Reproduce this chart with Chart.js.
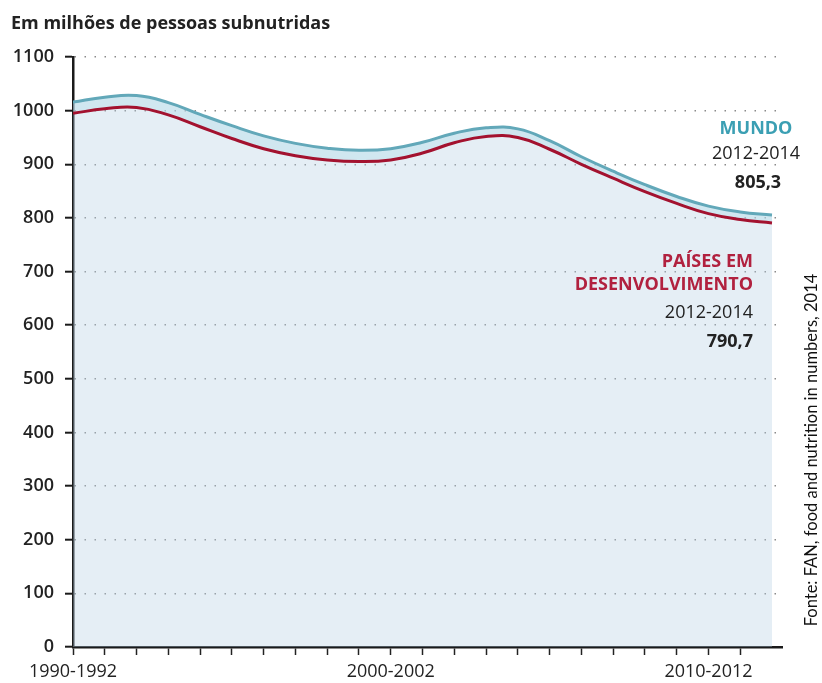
<!DOCTYPE html>
<html>
<head>
<meta charset="utf-8">
<script src="https://cdn.jsdelivr.net/npm/chart.js@4/dist/chart.umd.min.js"></script>
<style>
html,body{margin:0;padding:0;background:#fff;}
#wrap{position:relative;width:822px;height:683px;}
</style>
</head>
<body>
<div id="wrap"><canvas id="c" width="822" height="683"></canvas></div>
<script>
// ---- Data ----
const years = [1990,1991,1992,1993,1994,1995,1996,1997,1998,1999,2000,2001,2002,2003,2004,2005,2006,2007,2008,2009,2010,2011,2012];
const mundo = [1016,1025,1028,1015,993,972,953,939,930,926,929,941,958,968,966,944,914,887,862,840,822,811,805.3];
const paisesDesenvolvimento = [995,1003.5,1006,992,970,948,929,916,908,905,908,921,940,952,950,928,900,874,849,827,808,797,790.7];
const xTickYears = [1990,2000,2010];
const xTickLabels = ['1990-1992','2000-2002','2010-2012'];
const yTicks = [0,100,200,300,400,500,600,700,800,900,1000,1100];

const titleText = 'Em milhões de pessoas subnutridas';
const sourceText = 'Fonte: FAN, food and nutrition in numbers, 2014';
const mundoLabel = ['MUNDO','2012-2014','805,3'];
const paisesLabel = ['PAÍSES EM','DESENVOLVIMENTO','2012-2014','790,7'];

const teal = '#3b9fb3';
const crimson = '#b1213f';

const textPlugin = {
  id: 'texts',
  afterDraw(chart) {
    const ctx = chart.ctx;
    ctx.save();
    // title
    ctx.fillStyle = '#222';
    ctx.font = '700 18px "Open Sans"';
    ctx.textAlign = 'left';
    ctx.textBaseline = 'alphabetic';
    ctx.fillText(titleText, 11, 29);

    // MUNDO block (centered)
    ctx.textAlign = 'center';
    ctx.fillStyle = teal;
    ctx.font = '700 18px "Open Sans"';
    ctx.fillText(mundoLabel[0], 756, 134);
    ctx.fillStyle = '#222';
    ctx.font = '400 18px "Open Sans"';
    ctx.fillText(mundoLabel[1], 756, 159);
    ctx.font = '700 18px "Open Sans"';
    ctx.fillText(mundoLabel[2], 758, 188);

    // PAISES block (right aligned)
    ctx.textAlign = 'right';
    ctx.fillStyle = crimson;
    ctx.font = '700 18px "Open Sans"';
    ctx.fillText(paisesLabel[0], 753, 267);
    ctx.fillText(paisesLabel[1], 753, 290);
    ctx.fillStyle = '#222';
    ctx.font = '400 18px "Open Sans"';
    ctx.fillText(paisesLabel[2], 753, 318);
    ctx.font = '700 18px "Open Sans"';
    ctx.fillText(paisesLabel[3], 753, 347);

    // source (vertical)
    ctx.translate(812, 450);
    ctx.rotate(-Math.PI/2);
    ctx.textAlign = 'center';
    ctx.textBaseline = 'middle';
    ctx.fillStyle = '#111';
    ctx.font = '400 16.5px Lato';
    ctx.fillText(sourceText, 0, 0);
    ctx.restore();
  }
};

new Chart(document.getElementById('c'), {
  type: 'line',
  data: {
    datasets: [
      {
        label: 'Mundo',
        data: years.map((y,i)=>({x:y, y:mundo[i]})),
        borderColor: '#62a8b9',
        borderWidth: 3,
        backgroundColor: 'rgba(180,205,225,0.34)',
        fill: 'origin',
        tension: 0.45,
        pointRadius: 0
      },
      {
        label: 'Países em desenvolvimento',
        data: years.map((y,i)=>({x:y, y:paisesDesenvolvimento[i]})),
        borderColor: '#a3122f',
        borderWidth: 3,
        backgroundColor: 'rgba(175,228,238,0.4)',
        fill: '-1',
        tension: 0.45,
        pointRadius: 0
      }
    ]
  },
  options: {
    responsive: false,
    animation: false,
    layout: { padding: { top: 57, right: 40, left: 0, bottom: 0 } },
    plugins: {
      legend: { display: false }, tooltip: { enabled: false }, title: { display: false },
      filler: { drawTime: 'beforeDatasetsDraw' }
    },
    scales: {
      x: {
        type: 'linear',
        min: 1990,
        max: 2012.315,
        afterFit(s){ s.height = 36; },
        afterBuildTicks(s){ s.ticks = s.ticks.filter(t => Number.isInteger(t.value)); },
        ticks: {
          stepSize: 1,
          autoSkip: false,
          maxRotation: 0,
          padding: 6,
          color: '#222',
          font: { family: 'Open Sans', size: 18, weight: '400' },
          callback: (v) => { const k = xTickYears.indexOf(v); return k >= 0 ? xTickLabels[k] : ''; }
        },
        grid: { drawOnChartArea: false, drawTicks: true, tickLength: 8, tickColor: '#222', tickWidth: 1.5 },
        border: { display: true, color: '#1a1a1a', width: 2.5 }
      },
      y: {
        min: 0,
        max: 1100,
        afterFit(s){ s.width = 73; },
        afterBuildTicks(s){ s.ticks = yTicks.map(v => ({value: v})); },
        ticks: {
          padding: 11,
          color: '#222',
          font: { family: 'Open Sans', size: 18, weight: '600' },
          callback: (v) => String(v)
        },
        grid: {
          color: '#8a8a8a',
          lineWidth: 1.4,
          tickLength: 8,
          tickColor: '#1a1a1a',
          tickWidth: 2,
          tickBorderDash: []
        },
        border: { display: true, color: '#1a1a1a', width: 2.5, dash: [1.5, 8.5] }
      }
    }
  },
  plugins: [textPlugin]
});
</script>
</body>
</html>
